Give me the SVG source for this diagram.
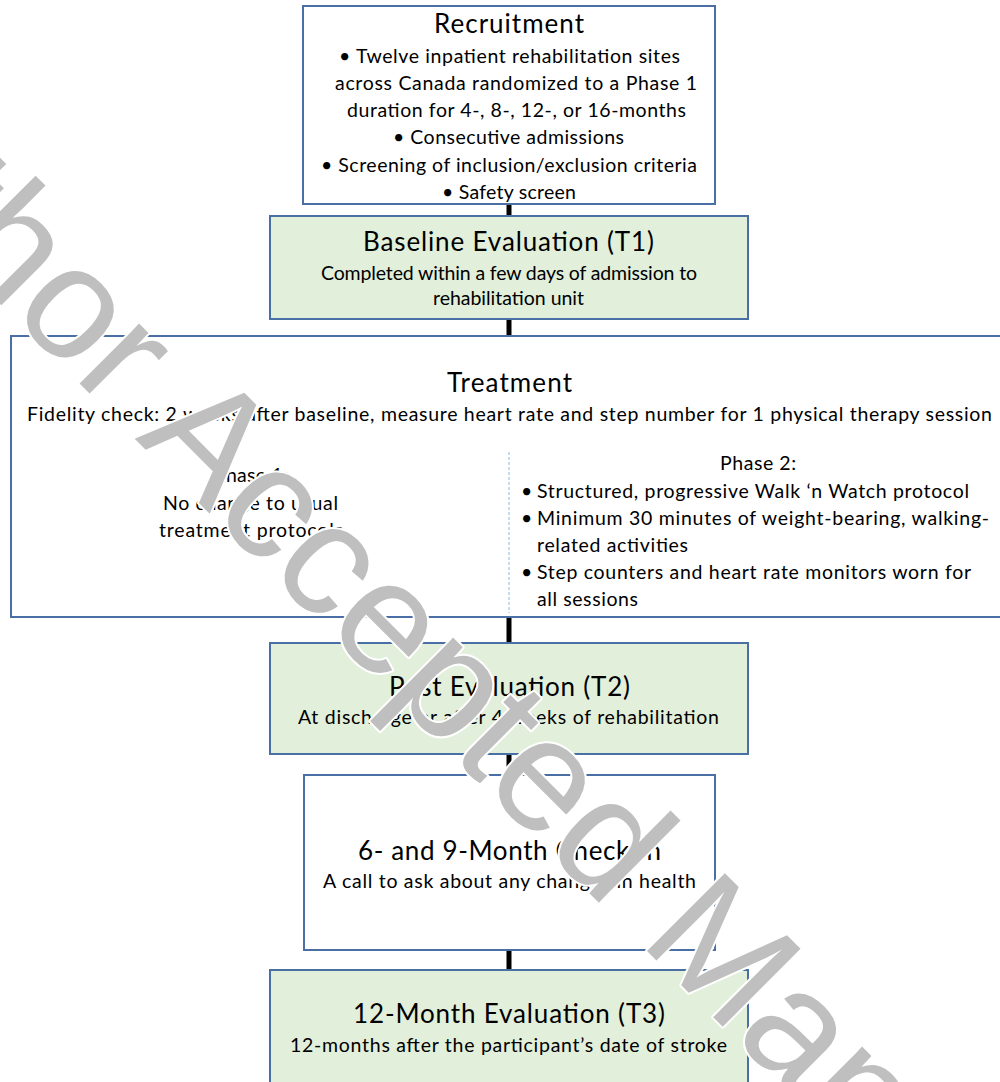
<svg xmlns="http://www.w3.org/2000/svg" width="1000" height="1082" viewBox="0 0 1000 1082">
<style>
.box{fill:#ffffff;stroke:#4a6fa5;stroke-width:2}
.green{fill:#e2efda;stroke:#4a6fa5;stroke-width:2}
.t{font-family:Lato,"Liberation Sans",sans-serif;fill:#000}
.title{font-size:26px}
.body{font-size:19.5px}
.conn{stroke:#000;stroke-width:5;fill:none}
.div{stroke:#9dc3e6;stroke-width:1.2;stroke-dasharray:3 2;fill:none}
.wm{font-family:"Liberation Sans",Arial,sans-serif;font-size:160px;fill:#bfbfbf;stroke:#ffffff;stroke-width:4;paint-order:stroke;stroke-linejoin:round}
</style>
<rect width="1000" height="1082" fill="#ffffff"/>
<g id="connectors">
<line class="conn" x1="509" y1="204" x2="509" y2="216"/>
<line class="conn" x1="509" y1="319" x2="509" y2="336"/>
<line class="conn" x1="509" y1="617" x2="509" y2="643"/>
<line class="conn" x1="509" y1="754" x2="509" y2="775"/>
<line class="conn" x1="509" y1="950" x2="509" y2="970"/>
</g>
<g id="recruitment">
<rect class="box" x="303" y="6" width="412" height="198"/>
<text class="t title" x="434" y="33" textLength="150">Recruitment</text>
<text class="t body" x="339" y="63" textLength="341">• Twelve inpatient rehabilitation sites</text>
<text class="t body" x="335" y="90" textLength="362">across Canada randomized to a Phase 1</text>
<text class="t body" x="347" y="117" textLength="339">duration for 4-, 8-, 12-, or 16-months</text>
<text class="t body" x="393" y="144" textLength="231">• Consecutive admissions</text>
<text class="t body" x="321" y="172" textLength="376">• Screening of inclusion/exclusion criteria</text>
<text class="t body" x="442" y="199" textLength="134">• Safety screen</text>
</g>
<g id="baseline">
<rect class="green" x="270" y="216" width="478" height="103"/>
<text class="t title" x="363" y="251" textLength="291">Baseline Evaluation (T1)</text>
<text class="t body" x="321" y="280" textLength="376">Completed within a few days of admission to</text>
<text class="t body" x="433" y="305" textLength="151">rehabilitation unit</text>
</g>
<g id="treatment">
<rect class="box" x="11" y="336" width="1000" height="281"/>
<text class="t title" x="447" y="392" textLength="125">Treatment</text>
<text class="t body" x="27" y="421" textLength="965">Fidelity check: 2 weeks after baseline, measure heart rate and step number for 1 physical therapy session</text>
<line class="div" x1="509" y1="452" x2="509" y2="613"/>
<text class="t body" x="214" y="482" textLength="74">Phase 1:</text>
<text class="t body" x="163" y="510" textLength="175">No change to usual</text>
<text class="t body" x="159" y="537" textLength="184">treatment protocols</text>
<text class="t body" x="720" y="470" textLength="76">Phase 2:</text>
<text class="t body" x="521" y="498">•</text>
<text class="t body" x="537" y="498" textLength="432">Structured, progressive Walk ‘n Watch protocol</text>
<text class="t body" x="521" y="525">•</text>
<text class="t body" x="537" y="525" textLength="452">Minimum 30 minutes of weight-bearing, walking-</text>
<text class="t body" x="537" y="552" textLength="151">related activities</text>
<text class="t body" x="521" y="579">•</text>
<text class="t body" x="537" y="579" textLength="434">Step counters and heart rate monitors worn for</text>
<text class="t body" x="537" y="606" textLength="101">all sessions</text>
</g>
<g id="post-evaluation">
<rect class="green" x="270" y="643" width="478" height="111"/>
<text class="t title" x="389" y="696" textLength="241">Post Evaluation (T2)</text>
<text class="t body" x="298" y="724" textLength="421">At discharge or after 4 weeks of rehabilitation</text>
</g>
<g id="checkin">
<rect class="box" x="304" y="775" width="411" height="175"/>
<text class="t title" x="358" y="860" textLength="303">6- and 9-Month Check-in</text>
<text class="t body" x="323" y="888" textLength="373">A call to ask about any changes in health</text>
</g>
<g id="twelve-month">
<rect class="green" x="270" y="970" width="478" height="125"/>
<text class="t title" x="353" y="1023" textLength="312">12-Month Evaluation (T3)</text>
<text class="t body" x="290" y="1052" textLength="437">12-months after the participant’s date of stroke</text>
</g>
<text class="wm" transform="translate(-224,80) rotate(45)" x="0" y="0">Author Accepted Manuscript</text>
</svg>
